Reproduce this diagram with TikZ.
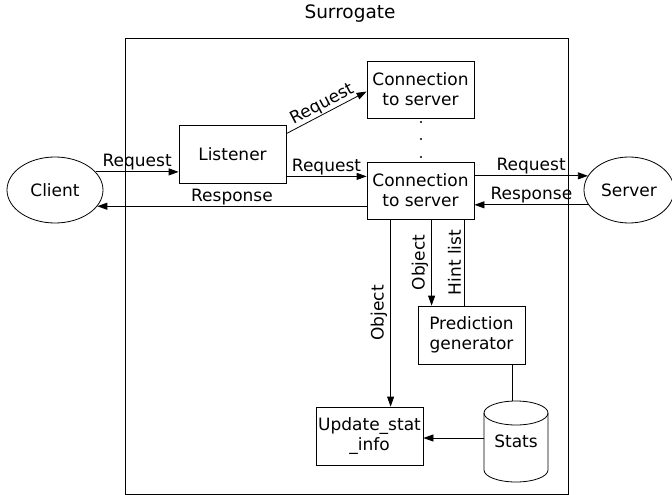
\documentclass[tikz,border=0pt]{standalone}
\usepackage{fontspec}
\setmainfont{DejaVu Sans}
\usetikzlibrary{arrows.meta,shapes.geometric}
\begin{document}
\begin{tikzpicture}[x=1pt,y=-1pt,
  every node/.style={font=\fontsize{17}{20}\selectfont},
  box/.style={draw,line width=0.8pt,minimum width=107pt,minimum height=58pt,align=center,inner sep=2pt},
  oval/.style={draw,line width=0.8pt,ellipse,minimum width=96pt,minimum height=66pt,inner sep=0pt},
  conn/.style={line width=0.8pt},
  arr/.style={conn,-{Triangle[length=10pt,width=7pt]}},
  lbl/.style={inner sep=1pt}]
\useasboundingbox (0,0) rectangle (672,495);
\node[font=\fontsize{18.5}{22}\selectfont] (title) at (350,14) {Surrogate};
\draw[line width=0.8pt] (125,38) rectangle (568,494);
\node[oval] (client) at (55,190) {Client};
\node[oval,minimum width=90pt] (server) at (629,190) {Server};
\node[box] (listener) at (232.5,154) {Listener};
\node[box,minimum height=57pt] (conn1) at (420.5,89.5) {Connection\\to server};
\node[box,minimum height=57pt] (conn2) at (420.5,190.5) {Connection\\to server};
\node[box] (pred) at (471.5,335) {Prediction\\generator};
\node[box] (upd) at (369.5,436) {Update\_stat\\\_info};
\node[minimum width=64pt,minimum height=70pt,inner sep=0pt] (stats) at (516,441) {Stats};
\draw[line width=0.8pt] (516,413) ellipse [x radius=32pt, y radius=12pt];
\draw[line width=0.8pt] (484,413) -- (484,470) arc [start angle=180, end angle=360, x radius=32pt, y radius=12pt] -- (548,413);
% dots
\foreach \yy in {122,139,157} \fill (421,\yy) circle [radius=1.2pt];
% client <-> listener / conn2
\draw[arr] (client.24) -- (client.24 -| listener.west) node[midway,above,lbl] {Request};
\draw[arr] (client.-21 -| conn2.west) -- (client.-21) node[midway,above,lbl] {Response};
% listener -> conns
\draw[arr] ([yshift=7pt]listener.south east) -- ([yshift=7pt]listener.south east -| conn2.west) node[midway,above,lbl] {Request};
\draw[arr] ([yshift=-9pt]listener.north east) -- ([yshift=-2pt]conn1.west) node[midway,above,sloped,lbl] {Request};
% conn2 <-> server
\draw[arr] (server.161 -| conn2.east) -- (server.161) node[midway,above,lbl] {Request};
\draw[arr] (server.200) -- (server.200 -| conn2.east) node[midway,above,lbl] {Response};
% down lines
\draw[arr] ([xshift=24pt]conn2.south west) -- ([xshift=24pt]conn2.south west |- upd.north) node[midway,rotate=90,anchor=south,lbl,inner sep=3pt] {Object};
\draw[arr] ([xshift=14pt]pred.north west |- conn2.south) -- ([xshift=14pt]pred.north west) node[midway,rotate=90,anchor=south,lbl,inner sep=3pt] {Object};
\draw[conn] ([xshift=47pt]pred.north west) -- ([xshift=47pt]pred.north west |- conn2.south) node[midway,rotate=90,anchor=south,lbl,inner sep=3pt] {Hint list};
\draw[conn] ([xshift=-13pt]pred.south east) -- ([xshift=-13pt]pred.south east |- 0,401);
\draw[arr] ([yshift=3pt]stats.west) -- ([yshift=3pt]stats.west -| upd.east);
\end{tikzpicture}
\end{document}
